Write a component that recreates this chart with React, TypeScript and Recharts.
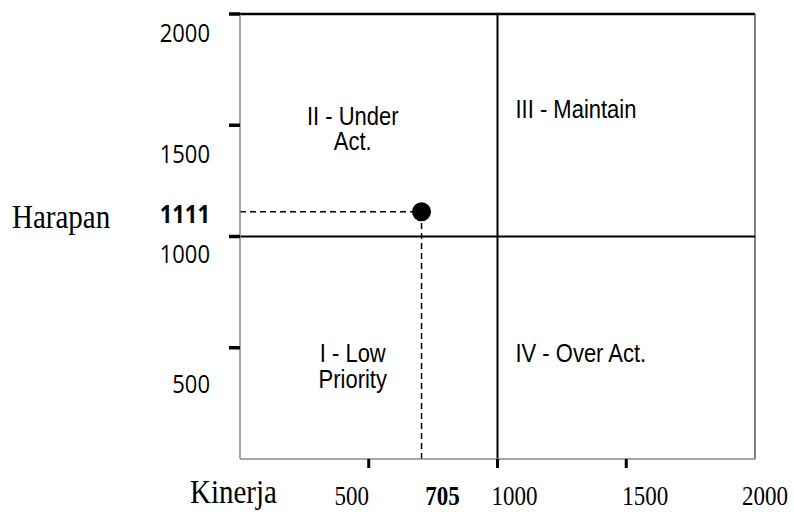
import React from 'react';
import { ScatterChart, Scatter, XAxis, YAxis, ReferenceLine, ReferenceArea } from 'recharts';

// Importance-performance matrix: Kinerja (x) vs Harapan (y)
const axisMax = 2000;
const midpoint = 1000;
const baseTicks = [500, 1000, 1500, 2000];
const point = [{ kinerja: 705, harapan: 1111 }];

const kinerjaTicks = [...baseTicks, point[0].kinerja].sort((a, b) => a - b);
const harapanTicks = [...baseTicks, point[0].harapan].sort((a, b) => a - b);
const highlighted = [point[0].kinerja, point[0].harapan];

const quadrants = [
  { id: 'II', lines: ['II - Under', 'Act.'], x1: 0, x2: midpoint, y1: midpoint, y2: axisMax },
  { id: 'III', lines: ['III - Maintain'], x1: midpoint, x2: axisMax, y1: midpoint, y2: axisMax },
  { id: 'I', lines: ['I - Low', 'Priority'], x1: 0, x2: midpoint, y1: 0, y2: midpoint },
  { id: 'IV', lines: ['IV - Over Act.'], x1: midpoint, x2: axisMax, y1: 0, y2: midpoint },
];

// label placement inside each quadrant (style only)
const quadStyle: Record<string, { center: boolean; dx: number; dy: number }> = {
  I: { center: true, dx: -16, dy: 126 },
  II: { center: true, dx: -16, dy: 111 },
  III: { center: false, dx: 18, dy: 104 },
  IV: { center: false, dx: 18, dy: 126 },
};
const yLabelShift: Record<number, number> = { 2000: 28, 1500: 38, 1111: 11, 1000: 27, 500: 45 };
const xLabelShift: Record<number, number> = { 500: -17, 705: 21, 1000: 17, 1500: 19, 2000: 10 };

const SANS = 'Liberation Sans, Arial, sans-serif';
const SERIF = 'Liberation Serif, Times New Roman, serif';

// the source picture is a little taller than wide, so glyphs are stretched vertically
const stretch = (y: number) => `translate(0 ${y}) scale(1 1.15) translate(0 ${-y})`;

const YTick = (props: any) => {
  const { x, y, payload } = props;
  const v = payload.value;
  const bold = highlighted.includes(v);
  const ty = y + (yLabelShift[v] ?? 27);
  return (
    <g>
      {!bold && <line x1={x - 11} x2={x} y1={y} y2={y} stroke="#000" strokeWidth={3.5} />}
      <text x={x - 30} y={ty} transform={stretch(ty)} textAnchor="end" fontFamily="Open Sans" fontSize={22}
        fontWeight={bold ? 700 : 400} fill="#000">{v}</text>
    </g>
  );
};

const XTick = (props: any) => {
  const { x, y, payload } = props;
  const v = payload.value;
  const bold = highlighted.includes(v);
  const ty = y + 46;
  return (
    <g>
      {!bold && v < axisMax && <line x1={x} x2={x} y1={y} y2={y + 9} stroke="#000" strokeWidth={3} />}
      <text x={x + (xLabelShift[v] ?? 0)} y={ty} transform={stretch(ty)} textAnchor="middle" fontFamily={SERIF}
        fontSize={23} fontWeight={bold ? 700 : 400} fill="#000">{v}</text>
    </g>
  );
};

const quadLabel = (id: string, lines: string[]) => (props: any) => {
  const vb = props.viewBox;
  const s = quadStyle[id];
  const tx = s.center ? vb.x + vb.width / 2 + s.dx : vb.x + s.dx;
  const ty = vb.y + s.dy;
  return (
    <text x={tx} y={ty} transform={stretch(ty)} textAnchor={s.center ? 'middle' : 'start'} fontFamily={SANS}
      fontSize={22} fill="#000">
      {lines.map((l, i) => (
        <tspan key={i} x={tx} dy={i === 0 ? 0 : 22}>{l}</tspan>
      ))}
    </text>
  );
};

const Dot = (props: any) => <circle cx={props.cx} cy={props.cy} r={9.5} fill="#000" />;

export default function App() {
  return (
    <div style={{ position: 'fixed', left: 0, top: 0, background: '#fff' }}>
      <ScatterChart width={794} height={512} margin={{ top: 14, right: 39, bottom: 0, left: 0 }}>
        <XAxis type="number" dataKey="kinerja" domain={[0, axisMax]} ticks={kinerjaTicks} interval={0}
          tickSize={0} tickMargin={0} tickLine={false} tick={<XTick />} height={53}
          axisLine={{ stroke: '#888', strokeWidth: 1.5 }}
          label={{
            content: (p: any) => {
              const ty = p.viewBox.y + 44;
              return <text x={p.viewBox.x - 50} y={ty} transform={stretch(ty)} fontFamily={SERIF} fontSize={29}
                fill="#000">Kinerja</text>;
            },
          }} />
        <YAxis type="number" dataKey="harapan" domain={[0, axisMax]} ticks={harapanTicks} interval={0}
          tickSize={0} tickMargin={0} tickLine={false} tick={<YTick />} width={240}
          axisLine={{ stroke: '#888', strokeWidth: 1.5 }}
          label={{
            content: (p: any) => {
              const ty = p.viewBox.y + p.viewBox.height / 2 - 8;
              return <text x={12} y={ty} transform={stretch(ty)} fontFamily={SERIF} fontSize={29}
                fill="#000">Harapan</text>;
            },
          }} />
        {quadrants.map(q => (
          <ReferenceArea key={q.id} x1={q.x1} x2={q.x2} y1={q.y1} y2={q.y2} fill="none" stroke="none"
            label={{ content: quadLabel(q.id, q.lines) }} />
        ))}
        <ReferenceLine y={axisMax} stroke="#000" strokeWidth={2.5} />
        <ReferenceLine x={axisMax} stroke="#555" strokeWidth={1.5} />
        <ReferenceLine x={midpoint} stroke="#000" strokeWidth={2} />
        <ReferenceLine y={midpoint} stroke="#000" strokeWidth={2} />
        <ReferenceLine segment={[{ x: 0, y: point[0].harapan }, { x: point[0].kinerja, y: point[0].harapan }]}
          stroke="#000" strokeWidth={1.5} strokeDasharray="6 4" />
        <ReferenceLine segment={[{ x: point[0].kinerja, y: 0 }, { x: point[0].kinerja, y: point[0].harapan }]}
          stroke="#000" strokeWidth={1.5} strokeDasharray="6 4" />
        <Scatter data={point} fill="#000" shape={<Dot />} isAnimationActive={false} />
      </ScatterChart>
    </div>
  );
}
